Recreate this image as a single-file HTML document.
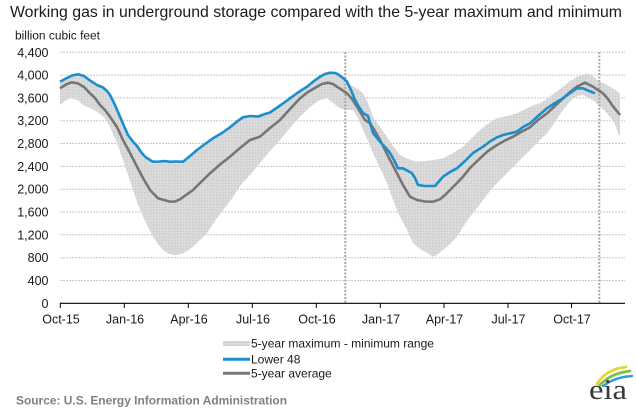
<!DOCTYPE html>
<html><head><meta charset="utf-8"><style>
html,body{margin:0;padding:0;background:#fff;}
svg{display:block;font-family:"Liberation Sans",Arial,sans-serif;}
</style></head><body>
<svg width="636" height="412" viewBox="0 0 636 412" xmlns="http://www.w3.org/2000/svg">
<defs>
<pattern id="st" width="3" height="3" patternUnits="userSpaceOnUse">
<rect width="3" height="3" fill="#d8d8d8"/>
<rect x="0" y="0" width="1" height="1" fill="#c9c9c9"/>
<rect x="2" y="1" width="1" height="1" fill="#e2e2e2"/>
</pattern>
</defs>
<rect width="636" height="412" fill="#fff"/>
<text x="10" y="17" font-size="16" fill="#1a1a1a" textLength="612" lengthAdjust="spacingAndGlyphs">Working gas in underground storage compared with the 5-year maximum and minimum</text>
<text x="15" y="39.5" font-size="11.5" fill="#1a1a1a" textLength="85" lengthAdjust="spacingAndGlyphs">billion cubic feet</text>
<g stroke="#c8c8c8" stroke-width="1" stroke-dasharray="2,1">
<line x1="60" y1="52.3" x2="625" y2="52.3"/>
<line x1="60" y1="75.1" x2="625" y2="75.1"/>
<line x1="60" y1="97.9" x2="625" y2="97.9"/>
<line x1="60" y1="120.7" x2="625" y2="120.7"/>
<line x1="60" y1="143.5" x2="625" y2="143.5"/>
<line x1="60" y1="166.4" x2="625" y2="166.4"/>
<line x1="60" y1="189.2" x2="625" y2="189.2"/>
<line x1="60" y1="212.0" x2="625" y2="212.0"/>
<line x1="60" y1="234.8" x2="625" y2="234.8"/>
<line x1="60" y1="257.7" x2="625" y2="257.7"/>
<line x1="60" y1="280.5" x2="625" y2="280.5"/>
</g>
<g font-size="12.5" fill="#1a1a1a" text-anchor="end">
<text x="48.5" y="57">4,400</text>
<text x="48.5" y="79.6">4,000</text>
<text x="48.5" y="102.4">3,600</text>
<text x="48.5" y="125.2">3,200</text>
<text x="48.5" y="148">2,800</text>
<text x="48.5" y="170.9">2,400</text>
<text x="48.5" y="193.7">2,000</text>
<text x="48.5" y="216.5">1,600</text>
<text x="48.5" y="239.3">1,200</text>
<text x="48.5" y="262.2">800</text>
<text x="48.5" y="285">400</text>
<text x="48.5" y="307.8">0</text>
</g>
<!-- band -->
<path fill="url(#st)" d="M60,82.5 L66,79.5 L72,76.5 L78,75.3 L84,77 L90,81.5 L97,86 L103,88.5 L107,92 L110,96 L115,106 L120,117.7 L124,127 L128,136 L133,142.7 L137,147 L141,153 L145,157.7 L150,161 L153,162.7 L160,162.5 L165,162 L170,162.8 L175,162.5 L183,162.7 L190,157 L197,151 L205,145 L213,139.3 L222,134 L230,128.3 L237,122.5 L243,118.3 L250,117 L258,117.5 L265,115 L270,113.5 L278,108 L285,103 L290,99.3 L298,93.5 L307,87.7 L314,82 L320,77.7 L325,75 L330,73.7 L335,74 L338,75.3 L343,79 L347,83 L350,85 L356,88 L363,93 L368,103 L373,117 L380,127 L387,137 L393,146 L400,155 L408,159 L417,161.7 L425,161 L440,159 L443,158.3 L453,153 L463,146.7 L472,138 L480,130 L489,123 L497,118.3 L507,116 L517,113.3 L530,106.7 L543,101.7 L553,94 L563,86.7 L570,81 L577,76.7 L587,73.3 L592,75 L597,80 L607,85 L618,91.7 L620,95
L620,136.7 L618,133.3 L615,124 L610,116.7 L605,111 L600,106.7 L595,102 L590,98.3 L583,95 L578,96 L573,98.3 L568,104 L563,110 L555,122 L547,133.3 L538,142 L530,150 L523,157 L517,163.3 L507,173 L497,183.3 L490,191 L483,200 L477,208 L470,216.7 L463,227 L457,236.7 L450,244 L443,250 L437,255 L433,256.7 L427,253 L420,249 L413,243 L407,230 L400,216.7 L393,200 L387,183 L380,168 L373,153 L368,141 L363,130 L358,118 L353,110 L347,110 L340,108.3 L333,103 L327,98.3 L320,100 L310,107 L300,116.7 L290,128 L280,140 L270,151 L260,163 L250,175 L240,186 L231,200 L223,210 L215,221 L207,233.3 L200,240 L193,246.7 L188,250.5 L183,253.3 L178,255 L173,255 L168,253.5 L163,250 L158,244 L153,236.7 L148,227 L143,216.7 L138,204 L133,190 L128,175 L123,160 L117,143 L110,126.7 L104,117 L97,111.7 L90,108 L83,105 L78,100 L70,98.3 L65,101 L60,105 Z"/>
<!-- dashed verticals -->
<g stroke="#a8a8a8" stroke-width="2" stroke-dasharray="2,1.5">
<line x1="345.3" y1="52" x2="345.3" y2="303"/>
<line x1="599.3" y1="52" x2="599.3" y2="303"/>
</g>
<!-- 5-year avg -->
<polyline fill="none" stroke="#767676" stroke-width="2.6" stroke-linejoin="round" points="60,88.3 66,84.5 71.7,82.3 78,83.5 84,87 90,93.3 95,98 100,105 105,110 110,116.7 117,127 123,140 130,153 137,166.7 143,178 150,190 158,198.3 164,200 170,201.7 175,201.5 180,199.3 186,195 193,190 200,183 210,173.3 220,164.5 230,156.7 240,148 250,140 260,136.7 270,128 280,120 290,109 300,98.3 308,92 317,86.7 322,84 328,82.7 333,84 337,86.7 342,90 347,93.3 352,99 357,106.7 362,115 365,120 370,123.3 375,131 380,140 388,156 397,173.3 403,185 410,196.7 417,200 425,201.5 433,201.7 440,199.3 445,195 450,190 457,183 463,176.7 470,168 480,158.3 488,151 497,145 505,140.5 513,136.7 521,132 530,127.3 538,120 547,113.3 555,106 563,98.3 570,92 577,86.7 585,82.7 593,86.7 598,90 603,93.3 608,99 612,105 616,110 620,115"/>
<!-- Lower 48 -->
<polyline fill="none" stroke="#1a8fcc" stroke-width="2.6" stroke-linejoin="round" points="60,81.7 66,78.5 72,75.5 78,74.3 84,76 90,80.5 97,85 103,87.5 107,91 110,95 115,105 120,116.7 124,126 128,135 133,141.7 137,146 141,152 145,156.7 150,160 153,161.7 160,161.5 165,161 170,161.8 175,161.5 183,161.7 190,156 197,150 205,144 213,138.3 222,133 230,127.3 237,121.5 243,117.3 250,116 258,116.5 265,114 270,112.5 278,107 285,102 290,98.3 298,92.5 307,86.7 314,81 320,76.7 325,74 330,72.7 335,73 338,74.3 343,78 347,81.7 351,90 355,100 359,107 363,113 368,116 373,133 377,138 380,141.7 385,147 390,153 394,160 398,168.3 403,168.3 408,171 412,173.3 415,178 418,185 425,186 432,186 435,186 443,176.7 450,172 457,168.3 465,161 473,153 483,146.7 490,141.5 497,137.3 503,135 510,133.3 517,131.7 523,127 530,123.3 538,116 547,108.3 555,103 563,98.3 570,93 577,88.3 583,88.3 588,90.5 595,93.3"/>
<!-- x axis -->
<line x1="60" y1="303.3" x2="625" y2="303.3" stroke="#000" stroke-width="1.2"/>
<g stroke="#000" stroke-width="1">
<line x1="60.3" y1="303" x2="60.3" y2="308"/>
<line x1="124.3" y1="303" x2="124.3" y2="308"/>
<line x1="188.3" y1="303" x2="188.3" y2="308"/>
<line x1="252.3" y1="303" x2="252.3" y2="308"/>
<line x1="316.3" y1="303" x2="316.3" y2="308"/>
<line x1="380.3" y1="303" x2="380.3" y2="308"/>
<line x1="444" y1="303" x2="444" y2="308"/>
<line x1="508" y1="303" x2="508" y2="308"/>
<line x1="571.5" y1="303" x2="571.5" y2="308"/>
</g>
<g font-size="12.5" fill="#1a1a1a" text-anchor="middle">
<text x="61" y="323.5">Oct-15</text>
<text x="125" y="323.5">Jan-16</text>
<text x="189" y="323.5">Apr-16</text>
<text x="253" y="323.5">Jul-16</text>
<text x="317" y="323.5">Oct-16</text>
<text x="381" y="323.5">Jan-17</text>
<text x="444.5" y="323.5">Apr-17</text>
<text x="508.5" y="323.5">Jul-17</text>
<text x="572" y="323.5">Oct-17</text>
</g>
<!-- legend -->
<rect x="223" y="341" width="27" height="5" fill="url(#st)"/>
<line x1="223" y1="359.3" x2="250" y2="359.3" stroke="#1a8fcc" stroke-width="3"/>
<line x1="223" y1="373.3" x2="250" y2="373.3" stroke="#767676" stroke-width="3"/>
<g font-size="12" fill="#1a1a1a">
<text x="251" y="347.5" textLength="183" lengthAdjust="spacingAndGlyphs">5-year maximum - minimum range</text>
<text x="251" y="363.5">Lower 48</text>
<text x="251" y="377.5">5-year average</text>
</g>
<text x="16" y="404.5" font-size="12" font-weight="bold" fill="#808080" textLength="271" lengthAdjust="spacingAndGlyphs">Source: U.S. Energy Information Administration</text>
<!-- eia logo -->
<g fill="none" stroke-linecap="round">
<path d="M597,384 Q606,369 626,367" stroke="#e8d53a" stroke-width="2.8"/>
<path d="M600,385 Q611,373 630,371" stroke="#7cc242" stroke-width="2.8"/>
<path d="M603,386 Q615,377 632,376" stroke="#2a9fd6" stroke-width="2.4"/>
</g>
<text x="589" y="399" font-family="'Liberation Serif',serif" font-size="28" fill="#3a3a3a" textLength="38" lengthAdjust="spacingAndGlyphs">eia</text>
</svg>
</body></html>
